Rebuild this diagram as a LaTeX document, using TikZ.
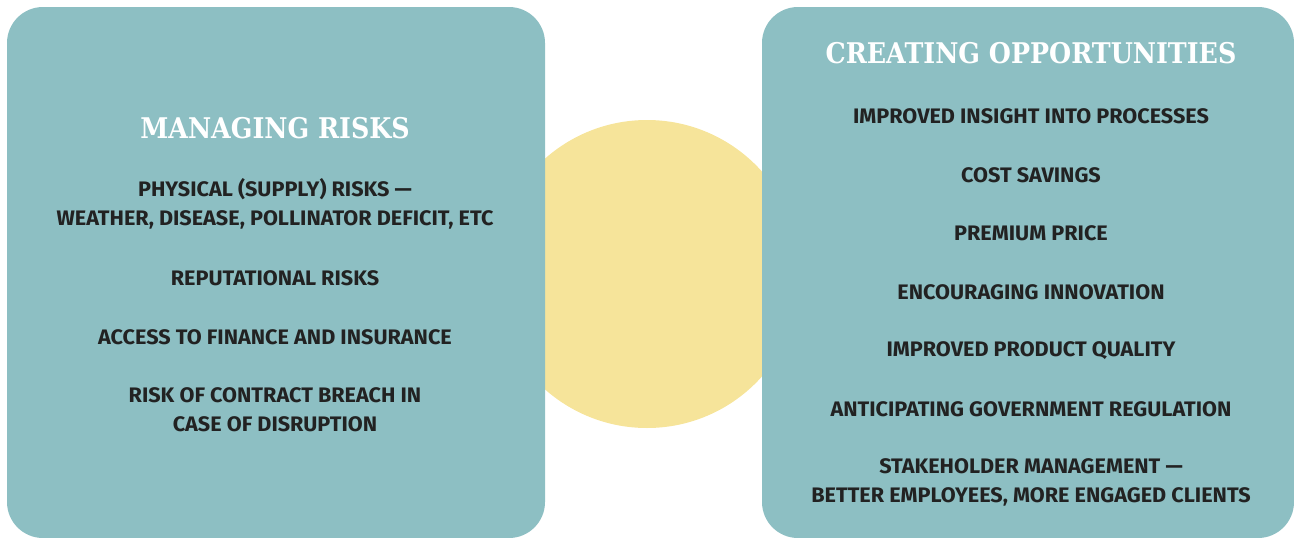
\documentclass[tikz,border=0pt]{standalone}
\usepackage{fontspec}
\setmainfont{Fira Sans}
\newfontfamily\headfont[FakeStretch=0.89]{DejaVu Serif}
\newfontfamily\bodyfont[FakeStretch=1.03]{Fira Sans}
\definecolor{teal}{HTML}{8DBFC3}
\definecolor{sun}{HTML}{F6E49A}
\definecolor{ink}{HTML}{222222}
\begin{document}
\begin{tikzpicture}[x=1pt,y=-1pt,
  panel/.style={fill=teal, draw=none, rounded corners=36pt},
  head/.style={text=white, font=\headfont\bfseries\fontsize{28.5}{30}\selectfont, inner sep=0pt, anchor=center},
  item/.style={text=ink, font=\bodyfont\bfseries\fontsize{21}{29}\selectfont, align=center, inner sep=0pt, anchor=center}]
\useasboundingbox (0,0) rectangle (1294,538);
\clip (0,0) rectangle (1294,538);
\node[circle, fill=sun, minimum size=308pt, inner sep=0pt] (sun) at (647,274) {};
\fill[panel] (7,7) rectangle (545,538);
\fill[panel] (762,7) rectangle (1294,538);
\node[head] (lh) at (275,128) {MANAGING RISKS};
\node[item] (l1) at (275,204) {PHYSICAL (SUPPLY) RISKS —\\WEATHER, DISEASE, POLLINATOR DEFICIT, ETC};
\node[item] (l2) at (275,278) {REPUTATIONAL RISKS};
\node[item] (l3) at (275,337) {ACCESS TO FINANCE AND INSURANCE};
\node[item] (l4) at (275,410) {RISK OF CONTRACT BREACH IN\\CASE OF DISRUPTION};
\node[head] (rh) at (1031,53) {CREATING OPPORTUNITIES};
\node[item] (r1) at (1031,116) {IMPROVED INSIGHT INTO PROCESSES};
\node[item] (r2) at (1031,175) {COST SAVINGS};
\node[item] (r3) at (1031,233) {PREMIUM PRICE};
\node[item] (r4) at (1031,292) {ENCOURAGING INNOVATION};
\node[item] (r5) at (1031,351) {IMPROVED PRODUCT QUALITY};
\node[item] (r6) at (1031,409) {ANTICIPATING GOVERNMENT REGULATION};
\node[item] (r7) at (1031,482) {STAKEHOLDER MANAGEMENT —\\BETTER EMPLOYEES, MORE ENGAGED CLIENTS};
\end{tikzpicture}
\end{document}
